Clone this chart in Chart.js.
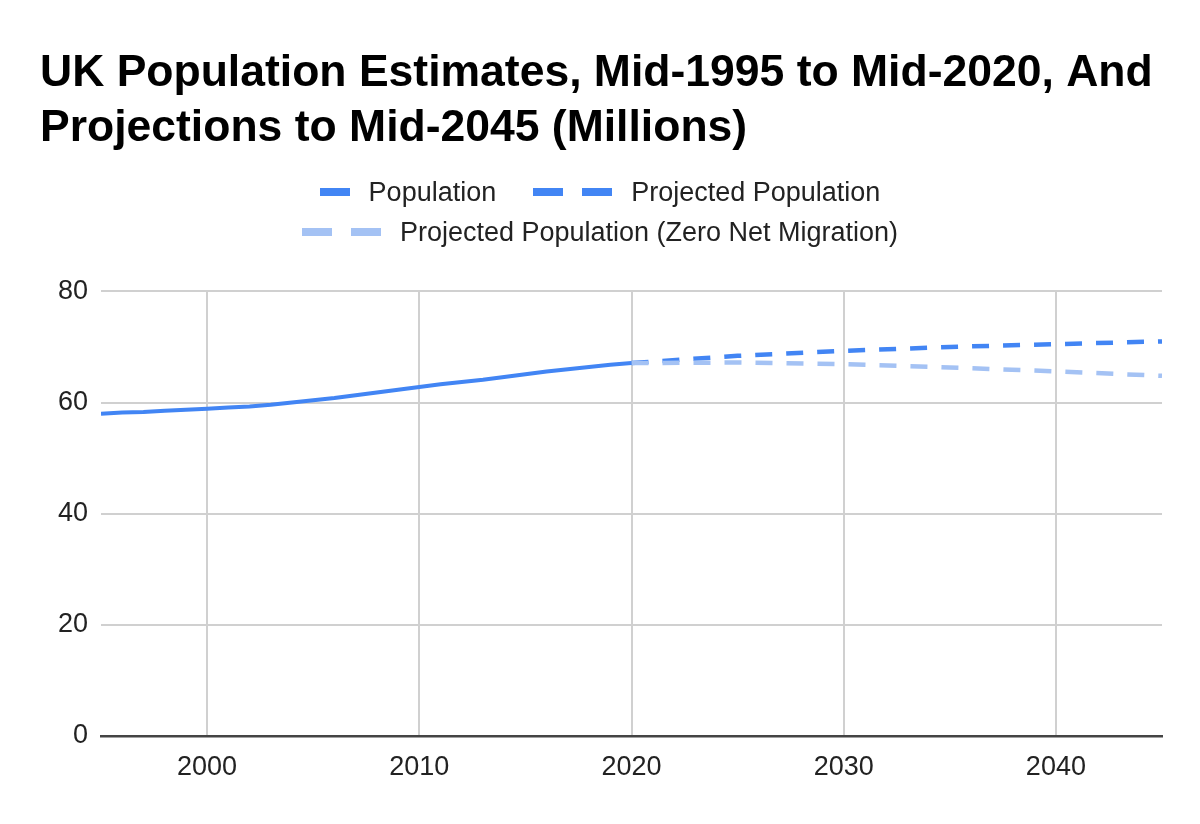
<!DOCTYPE html>
<html>
<head>
<meta charset="utf-8">
<title>UK Population Estimates</title>
<script src="https://cdn.jsdelivr.net/npm/chart.js@4/dist/chart.umd.min.js"></script>
<style>
  html, body { margin: 0; padding: 0; background: #fff; }
  #wrap { position: relative; width: 1200px; height: 824px; }
  #legend {
    position: absolute; top: 172px; left: 290px; width: 620px;
    display: flex; flex-wrap: wrap; justify-content: center; column-gap: 37px;
    font: 27px "Liberation Sans", Arial, sans-serif; color: #222; line-height: 40px;
  }
  .item { display: flex; align-items: center; white-space: nowrap; }
  .dash { display: inline-block; width: 30px; height: 8px; margin-right: 19px; }
</style>
</head>
<body>
<div id="wrap">
  <canvas id="chart" width="1200" height="824"></canvas>
  <div id="legend"></div>
</div>
<script>
// mid-year estimates (millions)
const years = [1995, 1996, 1997, 1998, 1999, 2000, 2001, 2002, 2003, 2004, 2005, 2006, 2007,
  2008, 2009, 2010, 2011, 2012, 2013, 2014, 2015, 2016, 2017, 2018, 2019, 2020];
const population = [58.0, 58.2, 58.3, 58.5, 58.7, 58.9, 59.1, 59.3, 59.6, 60.0, 60.4, 60.8, 61.3,
  61.8, 62.3, 62.8, 63.3, 63.7, 64.1, 64.6, 65.1, 65.6, 66.0, 66.4, 66.8, 67.1];

// projections (millions)
const projYears = [2020, 2025, 2030, 2035, 2040, 2045];
const projected = [67.1, 68.4, 69.3, 70.0, 70.5, 71.0];
const zeroNet = [67.1, 67.2, 66.9, 66.3, 65.6, 64.8];

const seriesNames = ['Population', 'Projected Population', 'Projected Population (Zero Net Migration)'];
const xTicks = [2000, 2010, 2020, 2030, 2040];
const yTicks = [0, 20, 40, 60, 80];

const blue = '#4285f4';
const lightBlue = '#a4c2f4';
const font = '"Liberation Sans", Arial, sans-serif';

function toPoints(xs, ys) {
  return xs.map((x, i) => ({ x: x, y: ys[i] }));
}

const datasets = [
  {
    label: seriesNames[0],
    data: toPoints(years, population),
    borderColor: blue,
    borderWidth: 4,
    dashes: 1
  },
  {
    label: seriesNames[2],
    data: toPoints(projYears, zeroNet),
    borderColor: lightBlue,
    borderWidth: 4.5,
    borderDash: [17, 14],
    dashes: 2
  },
  {
    label: seriesNames[1],
    data: toPoints(projYears, projected),
    borderColor: blue,
    borderWidth: 4.5,
    borderDash: [17, 14],
    dashes: 2
  }
];
datasets.forEach(d => {
  d.pointRadius = 0;
  d.tension = 0;
  d.fill = false;
  d.borderCapStyle = 'butt';
});

// html legend, in the original order
const legendEl = document.getElementById('legend');
seriesNames.forEach(name => {
  const ds = datasets.find(d => d.label === name);
  const item = document.createElement('div');
  item.className = 'item';
  for (let i = 0; i < ds.dashes; i++) {
    const s = document.createElement('span');
    s.className = 'dash';
    s.style.background = ds.borderColor;
    item.appendChild(s);
  }
  item.appendChild(document.createTextNode(name));
  legendEl.appendChild(item);
});

new Chart(document.getElementById('chart'), {
  type: 'line',
  data: { datasets: datasets },
  options: {
    responsive: false,
    animation: false,
    devicePixelRatio: 1,
    layout: { padding: { left: 40, right: 38, top: 0, bottom: 0 } },
    plugins: {
      legend: { display: false },
      tooltip: { enabled: false },
      title: {
        display: true,
        align: 'start',
        text: ['UK Population Estimates, Mid-1995 to Mid-2020, And', 'Projections to Mid-2045 (Millions)'],
        color: '#000',
        font: { family: font, size: 44.5, weight: 'bold', lineHeight: 1.24 },
        padding: { top: 46, bottom: 135 }
      }
    },
    scales: {
      x: {
        type: 'linear',
        min: 1995,
        max: 2045,
        afterBuildTicks: scale => { scale.ticks = xTicks.map(v => ({ value: v })); },
        afterFit: scale => { scale.height = 88; },
        grid: { color: '#d0d0d0', lineWidth: 2, drawTicks: false },
        border: { color: '#444', width: 2.5 },
        ticks: {
          padding: 15,
          color: '#222',
          font: { family: font, size: 27 },
          callback: v => String(v)
        }
      },
      y: {
        min: 0,
        max: 80,
        afterBuildTicks: scale => { scale.ticks = yTicks.map(v => ({ value: v })); },
        afterFit: scale => { scale.width = 61; },
        grid: { color: '#d0d0d0', lineWidth: 2, drawTicks: false },
        border: { display: false },
        ticks: {
          padding: 13,
          color: '#222',
          font: { family: font, size: 27 },
          callback: v => String(v)
        }
      }
    }
  }
});
</script>
</body>
</html>
